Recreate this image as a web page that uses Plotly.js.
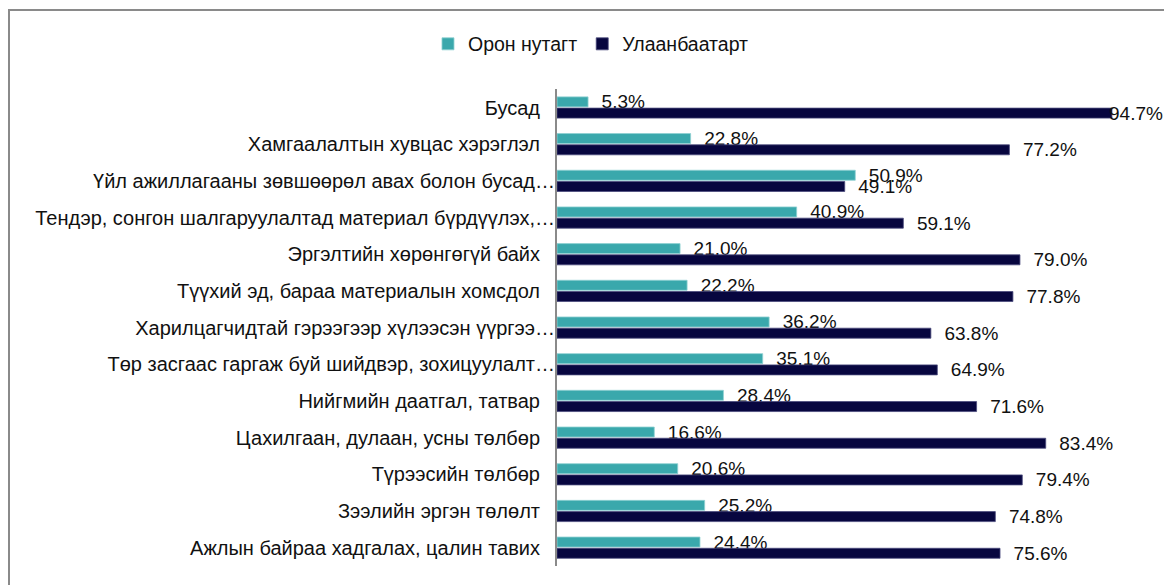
<!DOCTYPE html>
<html>
<head>
<meta charset="utf-8">
<script src="https://cdn.plot.ly/plotly-3.0.1.min.js"></script>
<style>
  html, body { margin: 0; padding: 0; background: #ffffff; }
  #wrap { position: relative; width: 1164px; height: 585px; overflow: hidden; }
  #frame { position: absolute; left: 8px; top: 9px; width: 1300px; height: 700px;
           border-top: 2px solid #8a8a8a; border-left: 2px solid #8a8a8a; }
  #chart { position: absolute; left: 0; top: 0; width: 1164px; height: 585px; }
</style>
</head>
<body>
<div id="wrap">
  <div id="frame"></div>
  <div id="chart"></div>
</div>
<script>
// Categories listed top to bottom
const categories = [
  "Бусад",
  "Хамгаалалтын хувцас хэрэглэл",
  "Үйл ажиллагааны зөвшөөрөл авах болон бусад…",
  "Тендэр, сонгон шалгаруулалтад материал бүрдүүлэх,…",
  "Эргэлтийн хөрөнгөгүй байх",
  "Түүхий эд, бараа материалын хомсдол",
  "Харилцагчидтай гэрээгээр хүлээсэн үүргээ…",
  "Төр засгаас гаргаж буй шийдвэр, зохицуулалт…",
  "Нийгмийн даатгал, татвар",
  "Цахилгаан, дулаан, усны төлбөр",
  "Түрээсийн төлбөр",
  "Зээлийн эргэн төлөлт",
  "Ажлын байраа хадгалах, цалин тавих"
];
const seriesNames = ["Орон нутагт", "Улаанбаатарт"];
const oronNutagt = [5.3, 22.8, 50.9, 40.9, 21.0, 22.2, 36.2, 35.1, 28.4, 16.6, 20.6, 25.2, 24.4];
const ulaanbaatar = [94.7, 77.2, 49.1, 59.1, 79.0, 77.8, 63.8, 64.9, 71.6, 83.4, 79.4, 74.8, 75.6];

const FONT = '"Liberation Sans", Arial, sans-serif';
const LABEL_SIZE = 19;

// labels without ellipsis get trailing spaces so their words line up like the original
const tickText = categories.map(c => c.endsWith("…") ? c : c + "\u2002\u2005");

const fmt = v => v.toFixed(1) + "%";
// labels that would run past the chart edge are drawn as annotations pulled back a little
const fits = v => v <= 90;
function labels(vals) {
  return vals.map(v => fits(v) ? "\u00a0\u00a0" + fmt(v) : "");
}

const common = {
  type: "bar",
  orientation: "h",
  y: categories,
  textposition: "outside",
  constraintext: "none",
  cliponaxis: false,
  textfont: { family: FONT, size: LABEL_SIZE, color: "#111111" },
  hoverinfo: "skip"
};

const traces = [
  Object.assign({}, common, {
    name: seriesNames[0],
    x: oronNutagt,
    text: labels(oronNutagt),
    marker: { color: "#3aa8ac", line: { color: "#8fd0d2", width: 0.8 } }
  }),
  Object.assign({}, common, {
    name: seriesNames[1],
    x: ulaanbaatar,
    text: labels(ulaanbaatar),
    marker: { color: "#07063f", line: { color: "#4a4a7c", width: 0.8 } }
  })
];

const annotations = [];
[[oronNutagt, 6], [ulaanbaatar, -6]].forEach(([vals, ys]) => {
  vals.forEach((v, i) => {
    if (!fits(v)) {
      annotations.push({
        x: v, y: categories[i], xref: "x", yref: "y",
        text: fmt(v), showarrow: false,
        xanchor: "left", yanchor: "middle",
        xshift: -5, yshift: ys,
        font: { family: FONT, size: LABEL_SIZE, color: "#111111" }
      });
    }
  });
});

const layout = {
  width: 1164,
  height: 585,
  margin: { l: 557, r: 21, t: 89, b: 19, pad: 0 },
  paper_bgcolor: "rgba(0,0,0,0)",
  plot_bgcolor: "rgba(0,0,0,0)",
  barmode: "group",
  bargap: 0.387,
  bargroupgap: 0.11,
  font: { family: FONT, size: 20, color: "#111111" },
  showlegend: true,
  legend: {
    orientation: "h",
    x: 0.058, xanchor: "center",
    y: 1.094, yanchor: "middle",
    font: { family: FONT, size: 19.5, color: "#111111" },
    itemwidth: 30,
    traceorder: "normal",
    bgcolor: "rgba(0,0,0,0)"
  },
  annotations: annotations,
  xaxis: {
    range: [0, 100],
    visible: false,
    fixedrange: true
  },
  yaxis: {
    type: "category",
    autorange: "reversed",
    tickmode: "array",
    tickvals: categories,
    ticktext: tickText,
    ticks: "",
    showgrid: false,
    zeroline: false,
    showline: true,
    linecolor: "#8a8a8a",
    linewidth: 2,
    tickfont: { family: FONT, size: 20, color: "#111111" },
    ticklabelstandoff: -4,
    fixedrange: true
  }
};

Plotly.newPlot("chart", traces, layout, { displayModeBar: false, staticPlot: true });
</script>
</body>
</html>
